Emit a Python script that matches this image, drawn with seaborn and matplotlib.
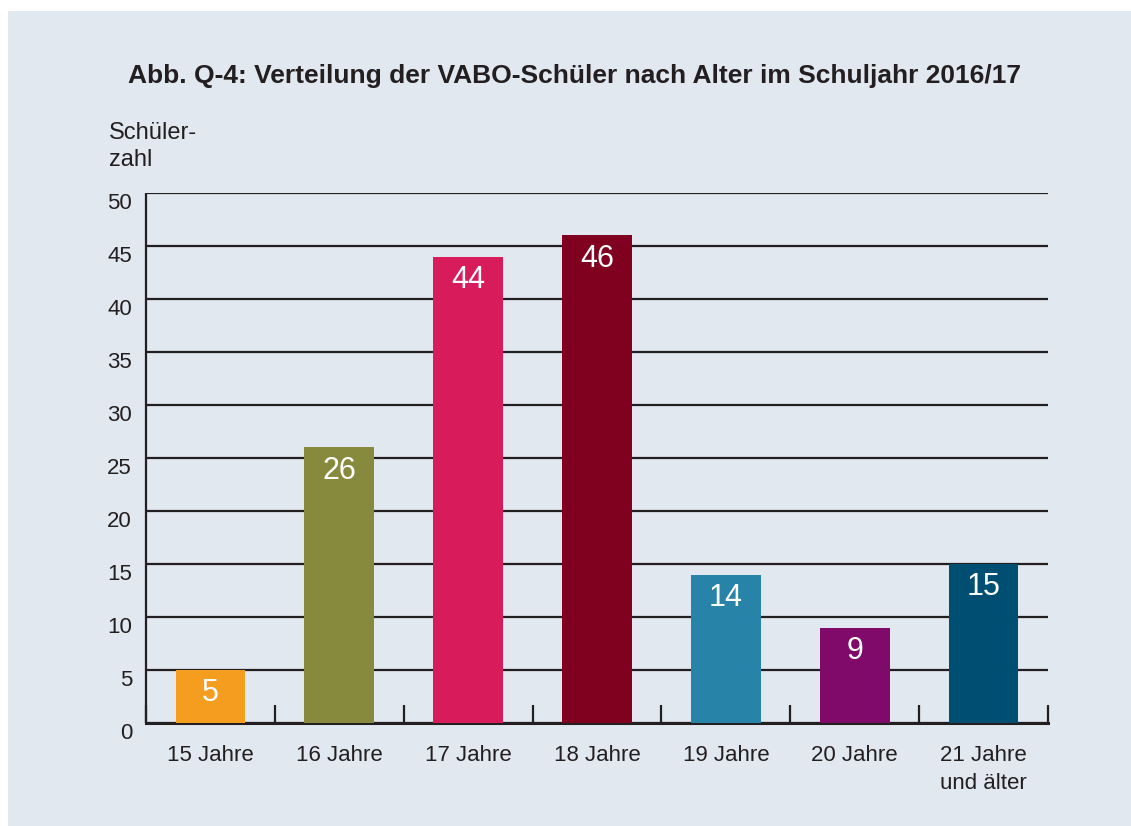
import matplotlib
matplotlib.use("Agg")
import matplotlib.pyplot as plt
import matplotlib.transforms as mtransforms
from matplotlib.patches import Rectangle
import seaborn as sns
import pandas as pd

categories = ["15 Jahre", "16 Jahre", "17 Jahre", "18 Jahre", "19 Jahre", "20 Jahre", "21 Jahre\nund älter"]
values = [5, 26, 44, 46, 14, 9, 15]
colors = ["#f59d1e", "#878a3c", "#d81b5a", "#80001f", "#2783a8", "#7f0a6a", "#004f73"]
yticks = [0, 5, 10, 15, 20, 25, 30, 35, 40, 45, 50]
title = "Abb. Q-4: Verteilung der VABO-Schüler nach Alter im Schuljahr 2016/17"
ylabel = "Schüler-\nzahl"

sns.set_theme(style="white")
plt.rcParams["font.family"] = ["Liberation Sans", "DejaVu Sans"]

bg = "#e1e8f0"
ink = "#231f20"

W, H = 1131, 826
fig = plt.figure(figsize=(W / 100, H / 100), dpi=100)
fig.patch.set_facecolor("white")
panel = Rectangle((8 / W, 0), 1 - 8 / W, (H - 11) / H,
                  transform=fig.transFigure, facecolor=bg,
                  edgecolor="none", zorder=-10)
fig.patches.append(panel)

ax = fig.add_axes([146 / W, 1 - 723 / H, (1048 - 146) / W, (723 - 193) / H])
ax.set_facecolor("none")

df = pd.DataFrame({"Alter": categories, "Anzahl": values})
sns.barplot(data=df, x="Alter", y="Anzahl", hue="Alter", palette=colors,
            width=0.54, saturation=1, linewidth=0, legend=False, ax=ax, zorder=3)

ax.set_xlim(-0.5, len(categories) - 0.5)
ax.set_ylim(0, 50)
ax.set_yticks(yticks)
ax.set_axisbelow(True)
ax.yaxis.grid(True, color=ink, linewidth=1.6)
ax.xaxis.grid(False)

for side in ["top", "right"]:
    ax.spines[side].set_visible(False)
ax.spines["left"].set_color(ink)
ax.spines["left"].set_linewidth(1.6)
ax.spines["left"].set_capstyle("butt")
ax.spines["bottom"].set_color(ink)
ax.spines["bottom"].set_linewidth(2.2)

ax.set_xlabel("")
ax.set_ylabel("")
ax.tick_params(axis="y", length=0, pad=10, labelsize=16, labelcolor=ink)
ax.tick_params(axis="x", which="major", length=0, pad=16, labelsize=16, labelcolor=ink)
# short upward ticks separating the categories
ax.set_xticks([i - 0.5 for i in range(len(categories) + 1)], minor=True)
ax.tick_params(axis="x", which="minor", bottom=True, direction="in", length=13,
               width=1.6, color=ink)
for lbl in ax.get_xticklabels():
    lbl.set_linespacing(1.4)

# y labels sit just below their grid line
shift = mtransforms.ScaledTranslation(0, -8 / 100, fig.dpi_scale_trans)
for lbl in ax.get_yticklabels():
    lbl.set_transform(lbl.get_transform() + shift)

for i, v in enumerate(values):
    ax.annotate(str(v), xy=(i, v), xytext=(0, -6), textcoords="offset points",
                ha="center", va="top", color="white", fontsize=22, zorder=5)

fig.text(575 / W, 1 - 76 / H, title, ha="center", va="center",
         fontsize=19, fontweight="bold", color=ink)
fig.text(109 / W, 1 - 122 / H, ylabel, ha="left", va="top",
         fontsize=17, color=ink, linespacing=1.3)

fig.savefig("out.png", dpi=100, facecolor=fig.get_facecolor())
